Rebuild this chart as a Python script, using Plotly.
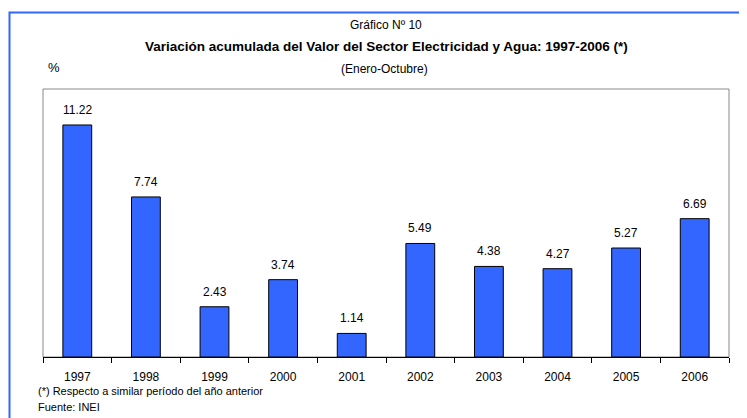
import plotly.graph_objects as go

years = ["1997", "1998", "1999", "2000", "2001", "2002", "2003", "2004", "2005", "2006"]
values = [11.22, 7.74, 2.43, 3.74, 1.14, 5.49, 4.38, 4.27, 5.27, 6.69]
labels = ["11.22", "7.74", "2.43", "3.74", "1.14", "5.49", "4.38", "4.27", "5.27", "6.69"]

OFF = 8  # page body margin
W, H = 747 - OFF, 418 - OFF
L, R, T, B = 43 - OFF, 729 - OFF, 89 - OFF, 357 - OFF


def px(x):
    return (x - OFF - L) / (R - L)


def py(y):
    return (B - (y - OFF)) / (B - T)


font = "Liberation Sans, Arial, sans-serif"

fig = go.Figure(go.Bar(
    x=years, y=values,
    marker=dict(color="#3366FF", line=dict(color="#000000", width=1)),
    cliponaxis=False,
))

annotations = [
    dict(text=t, x=i, y=v, xref="x", yref="y", showarrow=False,
         xanchor="center", yanchor="bottom", yshift=6,
         font=dict(family=font, size=12, color="#000000"))
    for i, (v, t) in enumerate(zip(values, labels))
]

annotations += [
    dict(text="Gráfico Nº 10", x=px(386), y=py(25), xref="paper", yref="paper",
         showarrow=False, xanchor="center", yanchor="middle",
         font=dict(family=font, size=12)),
    dict(text="<b>Variación acumulada del Valor del Sector Electricidad y Agua: 1997-2006 (*)</b>",
         x=px(386), y=py(46), xref="paper", yref="paper",
         showarrow=False, xanchor="center", yanchor="middle",
         font=dict(family=font, size=13.5)),
    dict(text="%", x=px(54), y=py(68), xref="paper", yref="paper",
         showarrow=False, xanchor="center", yanchor="middle",
         font=dict(family=font, size=13)),
    dict(text="(Enero-Octubre)", x=px(384), y=py(69), xref="paper", yref="paper",
         showarrow=False, xanchor="center", yanchor="middle",
         font=dict(family=font, size=12)),
    dict(text="(*) Respecto a similar período del año anterior", x=px(36), y=py(391),
         xref="paper", yref="paper", showarrow=False, xanchor="left", yanchor="middle",
         font=dict(family=font, size=11)),
    dict(text="Fuente: INEI", x=px(36), y=py(407),
         xref="paper", yref="paper", showarrow=False, xanchor="left", yanchor="middle",
         font=dict(family=font, size=11)),
]

fig.update_layout(
    width=W, height=H,
    margin=dict(l=L, r=W - R, t=T, b=H - B),
    paper_bgcolor="white", plot_bgcolor="white",
    bargap=0.58, showlegend=False,
    font=dict(family=font, color="#000000"),
    xaxis=dict(type="category", showline=True, linecolor="#000000", linewidth=1,
               ticks="outside", ticklen=5, tickcolor="#000000",
               tickson="boundaries", showgrid=False, ticklabelstandoff=9,
               tickfont=dict(family=font, size=12, color="#000000")),
    yaxis=dict(range=[0, 12.96], showticklabels=False, showgrid=False,
               zeroline=False, ticks=""),
    shapes=[
        dict(type="rect", xref="paper", yref="paper", x0=0, x1=1, y0=0, y1=1,
             line=dict(color="#888888", width=1), layer="below"),
        dict(type="path", xref="paper", yref="paper",
             path=f"M {px(9.5)},{py(430)} L {px(9.5)},{py(12.5)} L {px(760)},{py(12.5)}",
             line=dict(color="#3366FF", width=2)),
    ],
    annotations=annotations,
)

fig.write_html("out.html")
